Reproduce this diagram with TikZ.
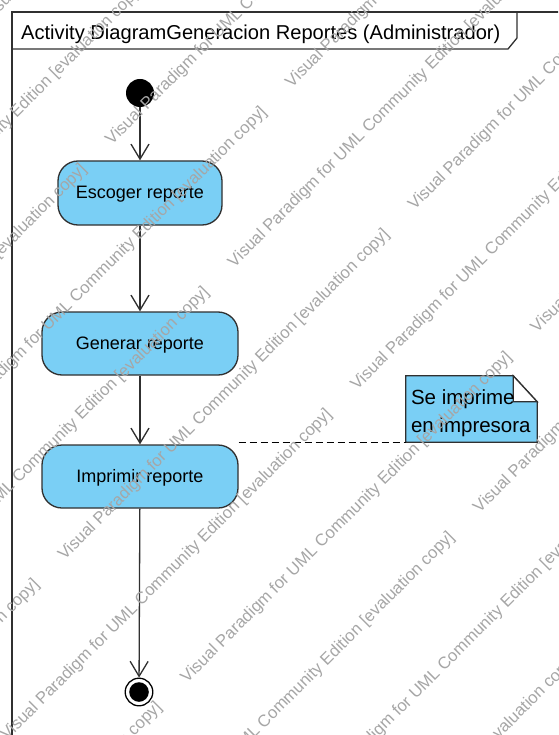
\documentclass[tikz,border=0pt]{standalone}
\usepackage{fontspec}
\setmainfont{Liberation Sans}
\usetikzlibrary{arrows.meta,calc}
\definecolor{actblue}{HTML}{7ACFF5}
\definecolor{linedark}{HTML}{303030}
\definecolor{wmgray}{HTML}{A6A6A6}

\begin{document}
\begin{tikzpicture}[x=1pt,y=-1pt,
  activity/.style={draw=linedark, fill=actblue, line width=1.3pt, rectangle,
    rounded corners=20pt, inner sep=0pt,
    font=\fontsize{18}{20}\selectfont, text height=14pt, text depth=2pt},
  initialnode/.style={circle, fill=black, minimum size=28pt, inner sep=0pt},
  finalnode/.style={circle, draw=black, line width=1.3pt, minimum size=27.6pt,
    inner sep=0pt,
    path picture={\fill[black] (path picture bounding box.center) circle (9.8pt);}},
  flow/.style={draw=linedark, line width=1.3pt,
    -{Straight Barb[length=15pt,width=18pt]}},
  anchorline/.style={draw=black, line width=1.1pt, dash pattern=on 7pt off 4pt},
  notearea/.style={rectangle, minimum width=131pt, minimum height=66pt, inner sep=0pt},
  noteline/.style={anchor=base west, inner sep=0pt, font=\fontsize{20.5}{24}\selectfont},
  frameline/.style={draw=linedark, line width=1.3pt},
  titletext/.style={anchor=base west, inner sep=0pt, font=\fontsize{20.1}{23}\selectfont},
  watermark/.style={anchor=base west, inner sep=0pt, rotate=45, text=wmgray,
    font=\fontsize{16.7}{19}\selectfont}
]
\useasboundingbox (0,0) rectangle (558,735);
\fill[white] (0,0) rectangle (558,735);
\clip (0,0) rectangle (558,735);

% diagram frame with its name tab
\draw[frameline] (12,760) -- (12,12) -- (570,12);
\draw[frameline] (12,49) -- (508,49) -- (517,38) -- (517,12);
\node[titletext] (title) at (21,40) {Activity DiagramGeneracion Reportes (Administrador)};

% activity nodes
\node[initialnode] (start) at (140,93) {};
\node[activity, minimum width=164pt, minimum height=64pt] (esc) at (140,193) {Escoger reporte};
\node[activity, minimum width=196pt, minimum height=63pt] (gen) at (140,343.5) {Generar reporte};
\node[activity, minimum width=196pt, minimum height=63pt] (imp) at (140,476.5) {Imprimir reporte};
\node[finalnode] (end) at (139,692) {};

% control flows
\draw[flow] (start) -- (esc);
\draw[flow] (esc) -- (gen);
\draw[flow] (gen) -- (imp);
\draw[flow] (imp) -- (end);

% comment note with folded corner
\node[notearea] (note) at (471.5,409) {};
\filldraw[fill=actblue, draw=linedark, line width=1.3pt, line join=miter]
  (note.north west) -- ($(note.north east)+(-24,0)$) -- ($(note.north east)+(0,26)$)
  -- (note.south east) -- (note.south west) -- cycle;
\filldraw[fill=white, draw=linedark, line width=1.3pt, line join=miter]
  ($(note.north east)+(-24,0)$) -- ($(note.north east)+(-24,26)$)
  -- ($(note.north east)+(0,26)$) -- cycle;
\node[noteline] (notea) at ($(note.north west)+(5,29)$) {Se imprime};
\node[noteline] (noteb) at ($(note.north west)+(5,57)$) {en impresora};
\draw[anchorline] (imp.east |- note.south west) -- (note.south west);

% tiled evaluation watermark
\foreach \k in {0,...,10} {
  \foreach \m in {-2,-1,0} {
    \pgfmathsetmacro\wu{-24+168*mod(\k,2)+495*(\m)}
    \pgfmathsetmacro\wv{182+86.7*(\k-2)}
    \pgfmathsetmacro\wx{(\wu+\wv)*0.70711}
    \pgfmathsetmacro\wy{(\wv-\wu)*0.70711}
    \node[watermark] (wm-\k-\m) at (\wx,\wy)
      {Visual Paradigm for UML Community Edition [evaluation copy]};
  }
}
\end{tikzpicture}
\end{document}
